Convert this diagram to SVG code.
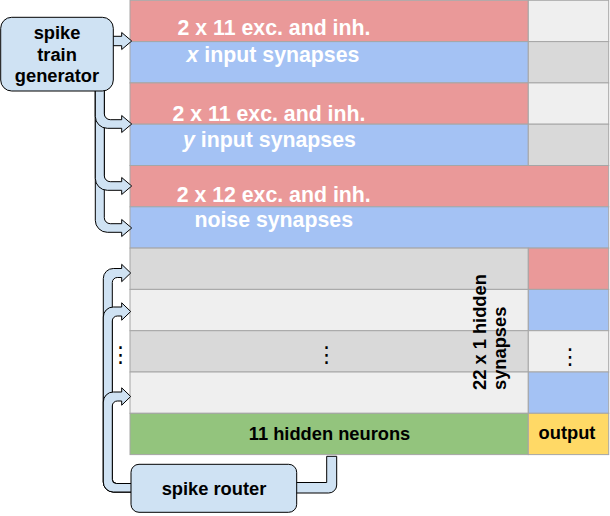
<svg xmlns="http://www.w3.org/2000/svg" width="610" height="516" viewBox="0 0 610 516">
<style>
.cell{stroke:#a6a6a6;stroke-width:1}
.red{fill:#ea9999}.blue{fill:#a4c2f4}.lg{fill:#efefef}.dg{fill:#d9d9d9}.green{fill:#93c47d}.yellow{fill:#ffd966}
.wt{font-family:"Liberation Sans",Arial,sans-serif;font-weight:bold;font-size:21.3px;fill:#fff;text-anchor:middle}
.bt{font-family:"Liberation Sans",Arial,sans-serif;font-weight:bold;font-size:18.3px;fill:#000}
.mid{text-anchor:middle}
.node{fill:#cfe2f3;stroke:#000;stroke-width:1}
.conn{fill:#cfe2f3;stroke:#000;stroke-width:1;stroke-linejoin:round}
.dots{font-family:"DejaVu Sans",sans-serif;font-size:22px;fill:#000;text-anchor:middle}
</style>
<rect width="610" height="516" fill="#fff"/>
<g id="grid">
  <g id="x-input-synapses">
    <rect class="cell red" x="130" y="0.3" width="398.3" height="41.3"/>
    <rect class="cell lg" x="528.3" y="0.3" width="80.4" height="41.3"/>
    <rect class="cell blue" x="130" y="41.6" width="398.3" height="41.3"/>
    <rect class="cell dg" x="528.3" y="41.6" width="80.4" height="41.3"/>
    <text class="wt" x="274" y="34.7">2 x 11 exc. and inh.</text>
    <text class="wt" x="273" y="61.7"><tspan font-style="italic">x</tspan> input synapses</text>
  </g>
  <g id="y-input-synapses">
    <rect class="cell red" x="130" y="82.9" width="398.3" height="41.3"/>
    <rect class="cell lg" x="528.3" y="82.9" width="80.4" height="41.3"/>
    <rect class="cell blue" x="130" y="124.2" width="398.3" height="41.3"/>
    <rect class="cell dg" x="528.3" y="124.2" width="80.4" height="41.3"/>
    <text class="wt" x="269" y="120.7">2 x 11 exc. and inh.</text>
    <text class="wt" x="269.5" y="146.7"><tspan font-style="italic">y</tspan> input synapses</text>
  </g>
  <g id="noise-synapses">
    <rect class="cell red" x="130" y="165.5" width="478.7" height="41.3"/>
    <rect class="cell blue" x="130" y="206.8" width="478.7" height="41.3"/>
    <text class="wt" x="273.7" y="201.7">2 x 12 exc. and inh.</text>
    <text class="wt" x="273.7" y="227.3">noise synapses</text>
  </g>
  <g id="hidden-synapses">
    <rect class="cell dg" x="130" y="248.1" width="398.3" height="41.3"/>
    <rect class="cell red" x="528.3" y="248.1" width="80.4" height="41.3"/>
    <rect class="cell lg" x="130" y="289.4" width="398.3" height="41.3"/>
    <rect class="cell blue" x="528.3" y="289.4" width="80.4" height="41.3"/>
    <rect class="cell dg" x="130" y="330.7" width="398.3" height="41.3"/>
    <rect class="cell lg" x="528.3" y="330.7" width="80.4" height="41.3"/>
    <rect class="cell lg" x="130" y="372" width="398.3" height="41.3"/>
    <rect class="cell blue" x="528.3" y="372" width="80.4" height="41.3"/>
    <text class="dots" x="326.5" y="362">⋮</text>
    <text class="dots" x="570" y="364">⋮</text>
    <text class="bt" transform="translate(485.7,390) rotate(-90)">22 x 1 hidden</text>
    <text class="bt" transform="translate(505.6,390) rotate(-90)">synapses</text>
  </g>
  <g id="hidden-neurons">
    <rect class="cell green" x="130" y="413.3" width="398.3" height="41.3"/>
    <text class="bt mid" x="329.5" y="440">11 hidden neurons</text>
  </g>
  <g id="output">
    <rect class="cell yellow" x="528.3" y="413.3" width="80.4" height="41.3"/>
    <text class="bt mid" x="567" y="439">output</text>
  </g>
</g>
<g id="connectors">
  <path class="conn" d="M 110 36.3 L 121.7 36.3 L 121.7 32.5 L 131.7 41 L 121.7 49.5 L 121.7 45.7 L 110 45.7 Z"/>
  <path class="conn" d="M 95.3 88 L 95.3 220.3 A 12 12 0 0 0 107.3 232.3 L 121.7 232.3 L 121.7 236.5 L 131.7 228 L 121.7 219.5 L 121.7 223.7 L 110.3 223.7 A 6 6 0 0 1 104.3 217.7 L 104.3 88 Z"/>
  <path class="conn" d="M 95.3 88 L 95.3 178.3 A 12 12 0 0 0 107.3 190.3 L 121.7 190.3 L 121.7 194.5 L 131.7 186 L 121.7 177.5 L 121.7 181.7 L 110.3 181.7 A 6 6 0 0 1 104.3 175.7 L 104.3 88 Z"/>
  <path class="conn" d="M 95.3 88 L 95.3 116.3 A 12 12 0 0 0 107.3 128.3 L 121.7 128.3 L 121.7 132.5 L 131.7 124 L 121.7 115.5 L 121.7 119.7 L 110.3 119.7 A 6 6 0 0 1 104.3 113.7 L 104.3 88 Z"/>
  <path class="conn" d="M 135 492 L 113.3 492 A 10 10 0 0 1 103.3 482 L 103.3 278.5 A 10 10 0 0 1 113.3 268.5 L 121.7 268.5 L 121.7 264.3 L 130.7 273 L 121.7 281.7 L 121.7 277.5 L 117.3 277.5 A 5 5 0 0 0 112.3 282.5 L 112.3 479.5 A 4 4 0 0 0 116.3 483.5 L 135 483.5 Z"/>
  <path class="conn" d="M 135 492 L 113.3 492 A 10 10 0 0 1 103.3 482 L 103.3 317 A 10 10 0 0 1 113.3 307 L 121.7 307 L 121.7 302.8 L 130.7 311.5 L 121.7 320.2 L 121.7 316 L 117.3 316 A 5 5 0 0 0 112.3 321 L 112.3 479.5 A 4 4 0 0 0 116.3 483.5 L 135 483.5 Z"/>
  <path class="conn" d="M 135 492 L 113.3 492 A 10 10 0 0 1 103.3 482 L 103.3 402 A 10 10 0 0 1 113.3 392 L 121.7 392 L 121.7 387.8 L 130.7 396.5 L 121.7 405.2 L 121.7 401 L 117.3 401 A 5 5 0 0 0 112.3 406 L 112.3 479.5 A 4 4 0 0 0 116.3 483.5 L 135 483.5 Z"/>
  <path class="conn" d="M 290 482.5 L 326.7 482.5 L 326.7 456.3 L 336.7 456.3 L 336.7 485 A 8 8 0 0 1 328.7 493 L 290 493 Z"/>
  <text class="dots" x="120.5" y="362">⋮</text>
</g>
<g id="spike-train-generator">
  <rect class="node" x="0.7" y="17.3" width="112.6" height="73.7" rx="11"/>
  <text class="bt mid" x="57" y="39.3">spike</text>
  <text class="bt mid" x="57" y="60.8">train</text>
  <text class="bt mid" x="57" y="82.3">generator</text>
</g>
<g id="spike-router">
  <rect class="node" x="131" y="464.3" width="165.7" height="48" rx="8"/>
  <text class="bt mid" x="214" y="495">spike router</text>
</g>
</svg>
